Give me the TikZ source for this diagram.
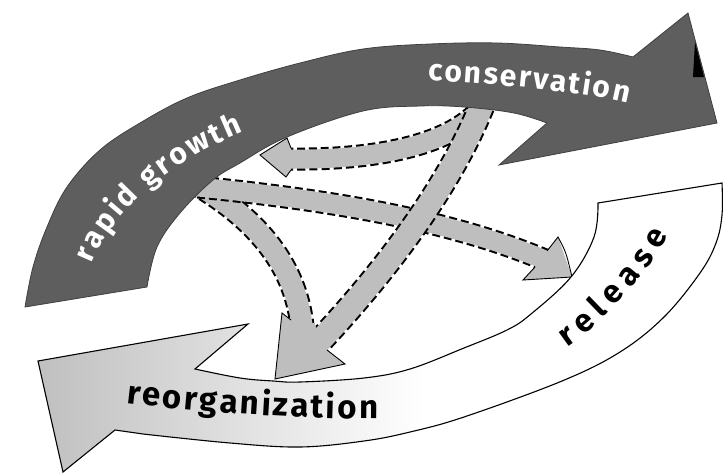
\documentclass[tikz,border=0pt]{standalone}
\usepackage{fontspec}
\setmainfont{Fira Sans}
\usetikzlibrary{decorations.text}
\definecolor{darkband}{RGB}{94,94,94}
\definecolor{arrowgray}{RGB}{190,190,190}
\definecolor{lightband}{RGB}{190,190,190}
\newcommand\grayshaft[3]{%
  \draw[line width=#2pt, dash pattern=on 8pt off 4pt, line cap=butt] #3;
  \draw[line width=#1pt, arrowgray, line cap=butt] #3;}
\newcommand\darkbandpath{(25,307) -- (147,287)
  -- plot[smooth, tension=0.6] coordinates {(147,287) (157,247) (180,213) (213,180) (240,163) (287,137) (363,111) (420,106) (464,107) (514,113) (547,123)}
  -- (499,165) -- (717,123) -- (688,13) -- (633,57)
  -- plot[smooth, tension=0.6] coordinates {(633,57) (600,50) (560,47) (497,43) (430,44) (363,49) (300,63) (240,80) (187,98) (140,123) (100,150) (67,187) (47,227) (33,267) (25,307)}
  -- cycle}
\newcommand\lightbandpath{(195,369)
  -- plot[smooth, tension=0.6] coordinates {(195,369) (240,378) (273,381) (300,382) (364,378) (410,369) (464,348) (507,330) (531,314) (571,277) (594,237) (598,203)}
  -- (722,183)
  -- plot[smooth, tension=0.6] coordinates {(722,183) (722,215) (716,243) (700,273) (664,317) (620,352) (562,381) (464,417) (410,432) (364,441) (300,447) (230,443) (143,434)}
  -- (115,430) -- (63,472) -- (38,361) -- (248,324) -- cycle}
\tikzset{
  headfill/.style={fill=arrowgray},
  headline/.style={draw=black, line width=0.9pt, line join=miter},
  labelpath/.style={decorate},
}
\begin{document}
\begin{tikzpicture}[x=1pt,y=-1pt]
\useasboundingbox (0,0) rectangle (728,474);
\fill[white] (0,0) rectangle (728,474);

% ---- dashed gray arrows: shafts ----
\grayshaft{21}{25}{(195,183) .. controls (250,215) and (295,260) .. (302,326)}
\grayshaft{19}{23}{(198,187) .. controls (330,200) and (450,220) .. (545,260)}
\grayshaft{19}{23}{(490,95) .. controls (462,150) and (360,160) .. (290,159)}
\grayshaft{23}{27}{(486,95) .. controls (462,160) and (410,245) .. (318,343)}

% ---- heads ----
% A (to rapid growth)
\fill[headfill] (291,148) -- (287,138) -- (260,155) -- (286,177) -- (291,170) -- cycle;
\draw[headline] (291,148) -- (287,138) -- (260,155) -- (286,177) -- (291,170);
% D (to release)
\fill[headfill] (547,251) -- (558,237) -- (572,277) -- (523,280) -- (535,267) -- cycle;
\draw[headline] (547,251) -- (558,237) .. controls (566,252) .. (572,277) -- (523,280) -- (535,267);
% C + B (to reorganization)
\fill[headfill] (291,320) -- (282,313) -- (275,379) -- (345,364) -- (327,350) -- (314,323) -- cycle;
\draw[headline] (291,320) -- (282,313) -- (275,379) -- (345,364) -- (327,350);

% ---- dark band (rapid growth -> conservation) ----
\filldraw[fill=darkband, draw=black!75, line width=0.8pt] \darkbandpath;
\fill[black] (695,42) -- (693,77) -- (704,77) -- cycle;

% ---- light band (release -> reorganization) ----
\begin{scope}
  \clip \lightbandpath;
  \fill[white] (0,150) rectangle (728,474);
  \shade[left color=lightband, right color=white] (30,300) rectangle (425,474);
\end{scope}
\draw[line width=1.1pt, line join=miter] \lightbandpath;

% ---- labels ----
\path[labelpath, decoration={text along path, text color=white, text align={fit to path},
  text={|\fontsize{30}{34}\selectfont\bfseries|rapid growth}}]
  (92,264) .. controls (115,205) and (175,160) .. (243,132);
\path[labelpath, decoration={text along path, text color=white, text align={fit to path},
  text={|\fontsize{30}{34}\selectfont\bfseries|conservation}}]
  (428,81) .. controls (470,81) and (580,91) .. (628,103);
\path[labelpath, decoration={text along path, text color=black, text align={fit to path},
  text={|\fontsize{33}{37}\selectfont\bfseries|reorganization}}]
  (126,403) .. controls (200,412) and (300,419) .. (378,419);
\path[labelpath, decoration={text along path, text color=black, text align={fit to path},
  text={|\fontsize{32}{36}\selectfont\bfseries|release}}]
  (567,347) .. controls (607,320) and (650,270) .. (668,235);
\end{tikzpicture}
\end{document}
